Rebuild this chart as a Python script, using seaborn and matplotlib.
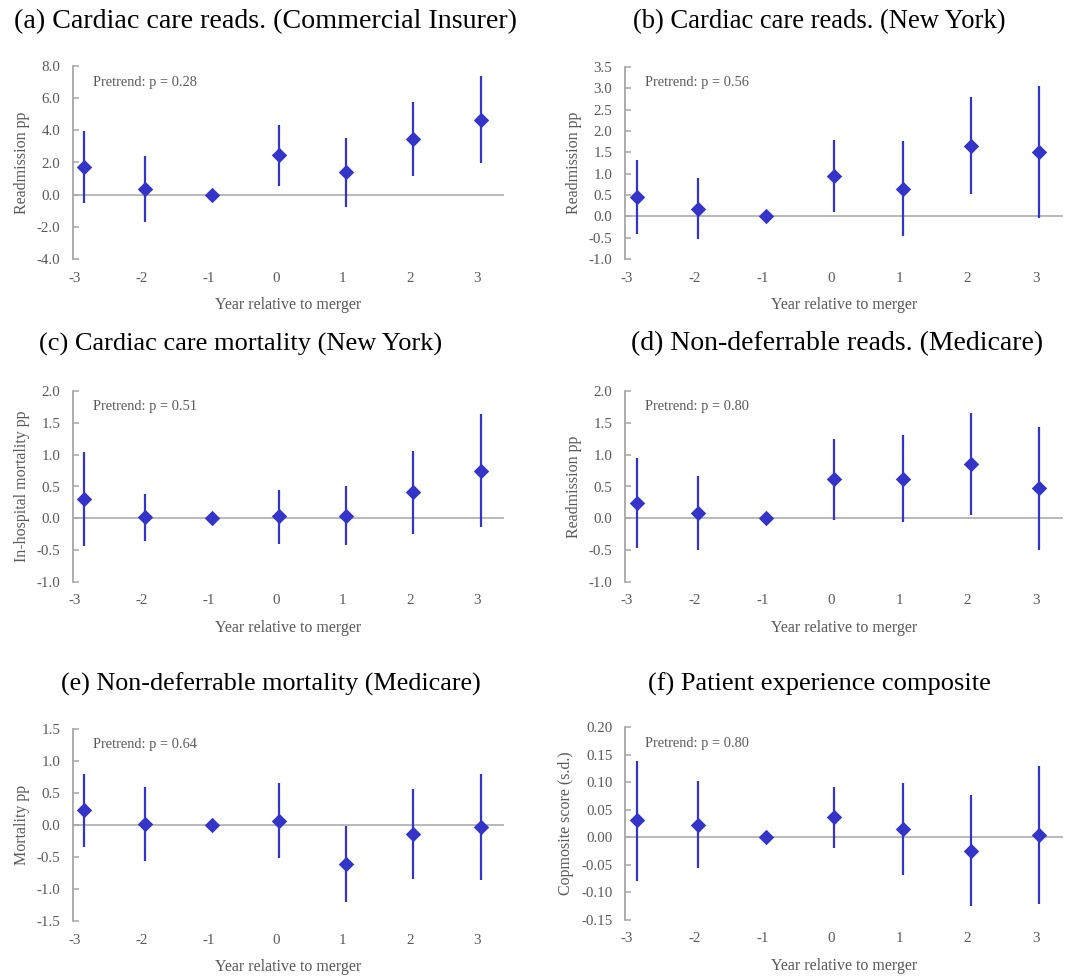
import numpy as np
import matplotlib
matplotlib.use("Agg")
import matplotlib.pyplot as plt
import seaborn as sns
import pandas as pd

sns.set_theme(style="white")
plt.rcParams["font.family"] = ["Liberation Serif", "DejaVu Serif"]
plt.rcParams["axes.unicode_minus"] = False

# years relative to merger and where the points sit on the axis
years = [-3, -2, -1, 0, 1, 2, 3]
x_pos = [-2.85, -1.95, -0.95, 0.05, 1.05, 2.05, 3.05]

# (a) cardiac care readmissions, commercial insurer
est_a = [1.72, 0.37, 0.0, 2.45, 1.39, 3.46, 4.66]
lo_a = [-0.50, -1.70, 0.0, 0.54, -0.77, 1.18, 1.97]
hi_a = [3.94, 2.40, 0.0, 4.33, 3.54, 5.74, 7.40]

# (b) cardiac care readmissions, New York
est_b = [0.45, 0.18, 0.0, 0.95, 0.65, 1.65, 1.50]
lo_b = [-0.41, -0.52, 0.0, 0.10, -0.47, 0.52, -0.05]
hi_b = [1.32, 0.90, 0.0, 1.79, 1.76, 2.79, 3.05]

# (c) cardiac care mortality, New York
est_c = [0.30, 0.02, 0.0, 0.03, 0.04, 0.41, 0.74]
lo_c = [-0.43, -0.35, 0.0, -0.40, -0.42, -0.25, -0.13]
hi_c = [1.04, 0.38, 0.0, 0.45, 0.50, 1.06, 1.64]

# (d) non-deferrable readmissions, Medicare
est_d = [0.24, 0.09, 0.0, 0.61, 0.62, 0.85, 0.47]
lo_d = [-0.47, -0.49, 0.0, -0.02, -0.06, 0.05, -0.49]
hi_d = [0.95, 0.66, 0.0, 1.24, 1.31, 1.65, 1.43]

# (e) non-deferrable mortality, Medicare
est_e = [0.23, 0.01, 0.0, 0.07, -0.61, -0.14, -0.03]
lo_e = [-0.34, -0.56, 0.0, -0.52, -1.20, -0.84, -0.86]
hi_e = [0.80, 0.60, 0.0, 0.66, -0.02, 0.56, 0.80]

# (f) patient experience composite
est_f = [0.031, 0.023, 0.0, 0.037, 0.015, -0.024, 0.004]
lo_f = [-0.079, -0.056, 0.0, -0.019, -0.069, -0.124, -0.121]
hi_f = [0.139, 0.102, 0.0, 0.092, 0.099, 0.077, 0.129]

titles = ["(a) Cardiac care reads. (Commercial Insurer)",
          "(b) Cardiac care reads. (New York)",
          "(c) Cardiac care mortality (New York)",
          "(d) Non-deferrable reads. (Medicare)",
          "(e) Non-deferrable mortality (Medicare)",
          "(f) Patient experience composite"]
ylabels = ["Readmission pp", "Readmission pp", "In-hospital mortality pp",
           "Readmission pp", "Mortality pp", "Copmosite score (s.d.)"]
pvals = ["0.28", "0.56", "0.51", "0.80", "0.64", "0.80"]
yticks_list = [np.arange(-4, 8.01, 2), np.arange(-1, 3.51, 0.5),
               np.arange(-1, 2.01, 0.5), np.arange(-1, 2.01, 0.5),
               np.arange(-1.5, 1.51, 0.5), np.arange(-0.15, 0.201, 0.05)]
yfmt = ["%.1f", "%.1f", "%.1f", "%.1f", "%.1f", "%.2f"]
series = [(est_a, lo_a, hi_a), (est_b, lo_b, hi_b), (est_c, lo_c, hi_c),
          (est_d, lo_d, hi_d), (est_e, lo_e, hi_e), (est_f, lo_f, hi_f)]

W, H = 1066, 976
# axes boxes in pixels: left, top, right, bottom
boxes = [(73, 66, 504, 259), (625, 67, 1063, 259),
         (73, 391, 504, 582), (625, 391, 1063, 582),
         (73, 729, 504, 921), (625, 727, 1063, 920)]
title_pos = [(266, 22), (819, 22), (241, 344), (837, 344), (271, 684), (819, 684)]
title_size = [20.2, 19.2, 19.0, 20.0, 18.8, 19.0]

blue = "#3434C8"
grey = "#A6A6A6"
txt = "#595959"

fig = plt.figure(figsize=(W / 100, H / 100), dpi=100)

for i in range(6):
    l, t, r, b = boxes[i]
    ax = fig.add_axes([l / W, (H - b) / H, (r - l) / W, (b - t) / H])
    est, lo, hi = series[i]
    df = pd.DataFrame({"x": x_pos, "est": est, "lo": lo, "hi": hi})

    ax.axhline(0, color=grey, lw=1.1, zorder=1)
    ax.vlines(df["x"], df["lo"], df["hi"], color=blue, lw=1.6, zorder=2)
    sns.scatterplot(data=df, x="x", y="est", marker="D", s=62, color=blue,
                    edgecolor=blue, linewidth=0, ax=ax, zorder=3)

    yt = yticks_list[i]
    ax.set_ylim(yt[0], yt[-1])
    ax.set_yticks(yt)
    ax.set_yticklabels([yfmt[i] % v for v in yt])
    ax.set_xlim(-3.02, 3.4)
    ax.set_xticks(years)
    ax.set_xticklabels([str(y) for y in years])

    for s in ["top", "right", "bottom"]:
        ax.spines[s].set_visible(False)
    ax.spines["left"].set_color(grey)
    ax.spines["left"].set_linewidth(1.3)
    ax.tick_params(axis="y", direction="in", length=4, width=1.1, color=grey,
                   left=True, labelsize=10.8, labelcolor=txt, pad=9)
    ax.tick_params(axis="x", length=0, labelsize=10.8, labelcolor=txt, pad=9)

    ax.set_xlabel("Year relative to merger", fontsize=11.5, color=txt, labelpad=9)
    ax.set_ylabel(ylabels[i], fontsize=11.5, color=txt, labelpad=5)
    ax.text(0.046, 0.917, "Pretrend: p = " + pvals[i], transform=ax.transAxes,
            fontsize=10.4, color=txt, va="center", ha="left")

    tx, ty = title_pos[i]
    fig.text(tx / W, 1 - ty / H, titles[i], fontsize=title_size[i], color="black",
             ha="center", va="center")

fig.savefig("out.png", dpi=100)
